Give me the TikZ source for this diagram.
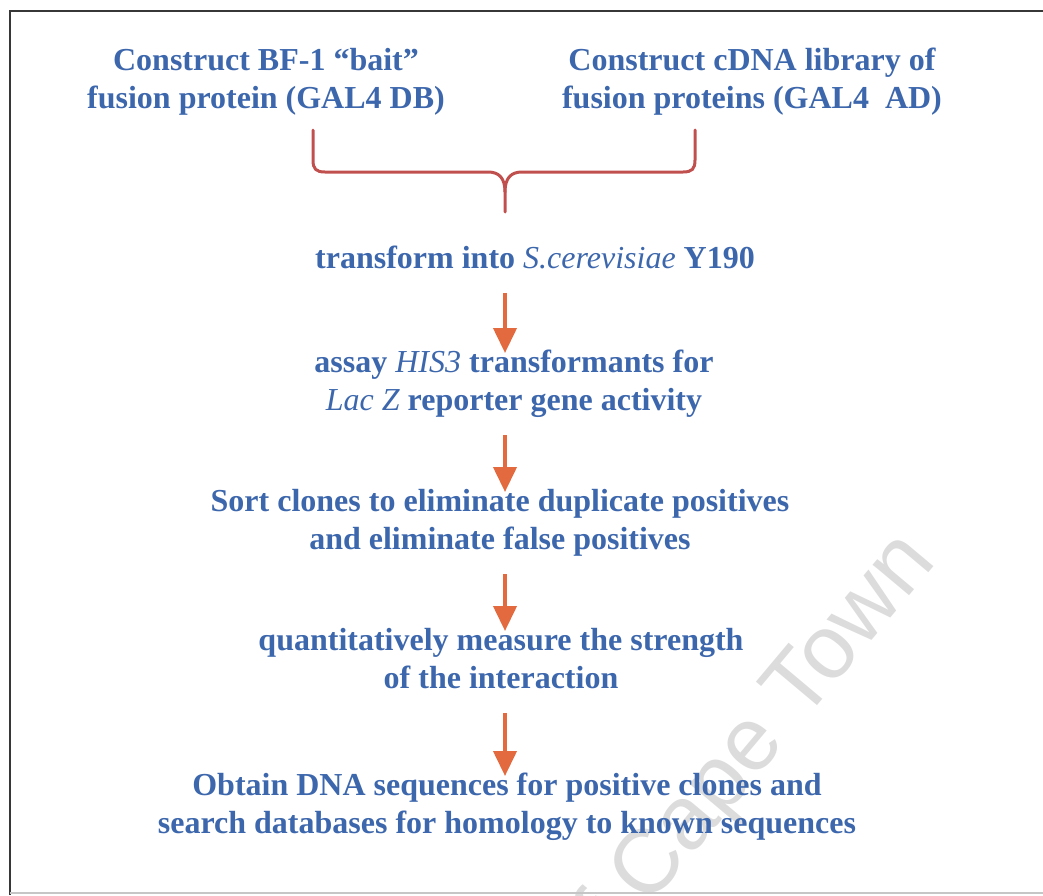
\documentclass[tikz,border=0pt]{standalone}
\usepackage{fontspec}
\setmainfont{Liberation Serif}
\newfontfamily\wmfont{Liberation Sans}
\usetikzlibrary{arrows.meta,calc}
\definecolor{txtblue}{RGB}{61,103,172}
\definecolor{bracered}{RGB}{192,80,77}
\definecolor{arroworange}{RGB}{226,106,62}
\definecolor{framegray}{RGB}{55,55,55}
\definecolor{wmgray}{RGB}{220,220,220}
\begin{document}
\begin{tikzpicture}[x=1pt,y=-1pt,
  stepnode/.style={align=center, inner sep=0pt, anchor=north, text=txtblue,
    font=\bfseries\fontsize{32}{38.5}\selectfont},
  flowarrow/.style={draw=arroworange, line width=4pt,
    -{Triangle[width=23pt,length=25pt]}},
  bracepath/.style={draw=bracered, line width=3pt, line cap=round},
  framestyle/.style={draw=framegray, line width=2.2pt},
  wmstyle/.style={rotate=50, anchor=base east, text=wmgray, inner sep=0pt,
    font=\wmfont\fontsize{90}{90}\selectfont}
]
\useasboundingbox (0,0) rectangle (1043,895);
% watermark
\begin{scope}
\clip (0,0) rectangle (1043,895);
\node[wmstyle] (wm) at (938,562) {of Cape Town};
\end{scope}
% frame
\draw[framestyle] (10,895) -- (10,11) -- (1043,11);
\draw[draw=gray!45, line width=1.5pt] (10,893) -- (1043,893);
% nodes
\node[stepnode] (bait) at (266,43) {\strut Construct BF-1 ``bait''\\fusion protein (GAL4 DB)\strut};
\node[stepnode] (lib) at (752,43) {\strut Construct cDNA library of\\fusion proteins (GAL4\ \ AD)\strut};
\node[stepnode] (trans) at (535,241) {\strut transform into {\mdseries\itshape S.cerevisiae} Y190\strut};
\node[stepnode] (assay) at (514,345) {\strut assay {\mdseries\itshape HIS3} transformants for\\{\mdseries\itshape Lac Z} reporter gene activity\strut};
\node[stepnode] (sort) at (500,484) {\strut Sort clones to eliminate duplicate positives\\and eliminate false positives\strut};
\node[stepnode] (quant) at (501,623) {\strut quantitatively measure the strength\\of the interaction\strut};
\node[stepnode] (seq) at (507,768) {\strut Obtain DNA sequences for positive clones and\\search databases for homology to known sequences\strut};
% brace
\coordinate (bl) at (313,130);
\coordinate (br) at (695,130);
\coordinate (bt) at (505,212);
\draw[bracepath] (bl) -- (313,160) .. controls (313,169) and (316,172) .. (325,172) -- (488,172) .. controls (499,172) and (505,178) .. (505,192) -- (bt);
\draw[bracepath] (br) -- (695,160) .. controls (695,169) and (692,172) .. (683,172) -- (522,172) .. controls (511,172) and (505,178) .. (505,192);
% arrows
\coordinate (ax) at (505,0);
\draw[flowarrow] ($(ax |- trans.south)+(0,13)$) -- ($(ax |- assay.north)+(0,8)$);
\draw[flowarrow] ($(ax |- assay.south)+(0,13)$) -- ($(ax |- sort.north)+(0,8)$);
\draw[flowarrow] ($(ax |- sort.south)+(0,13)$) -- ($(ax |- quant.north)+(0,8)$);
\draw[flowarrow] ($(ax |- quant.south)+(0,13)$) -- ($(ax |- seq.north)+(0,8)$);
\end{tikzpicture}
\end{document}
